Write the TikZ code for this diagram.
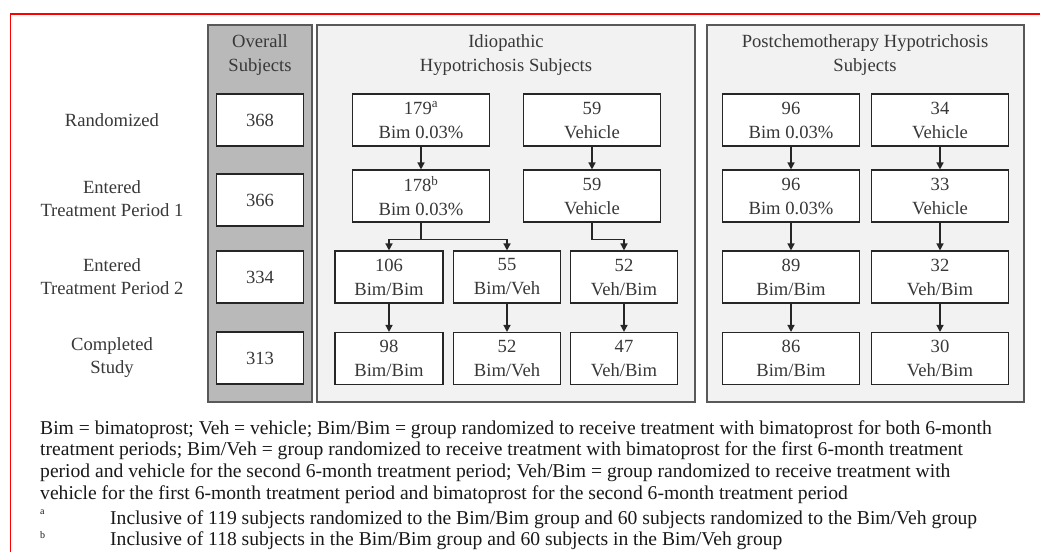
\documentclass[tikz,border=0pt]{standalone}
\usepackage{fontspec}
\setmainfont{Liberation Serif}
\usetikzlibrary{arrows.meta}
\tikzset{
    box/.style={draw=black!85,fill=white,line width=1.1pt,inner sep=0pt,
        minimum height=52pt,align=center,text=black!78,
        font=\fontsize{18.6}{24}\selectfont},
    rowlabel/.style={align=center,text=black!78,font=\fontsize{18.6}{23}\selectfont},
    title/.style={align=center,text=black!78,font=\fontsize{18.6}{24}\selectfont},
    panel/.style={draw=black!65,line width=1.6pt},
    arr/.style={-{Triangle[width=7pt,length=7pt]},line width=1.4pt,black!85},
    notetext/.style={anchor=north west,inner sep=0pt,text=black!90,
        font=\fontsize{19.6}{21.8}\selectfont},
    notemark/.style={anchor=north west,inner sep=0pt,text=black!90,
        font=\fontsize{10}{12}\selectfont},
}
\begin{document}
\begin{tikzpicture}[x=1pt,y=-1pt]
                \useasboundingbox[fill=white] (0,0) rectangle (1040,552);
                \draw[red,line width=1.5pt] (10.5,552) -- (10.5,14) -- (1040,14);
                %% panels
                \draw[panel,fill=gray!55] (208,25) rectangle (312,402);
                \draw[panel,fill=black!5] (317,25) rectangle (695,402);
                \draw[panel,fill=black!5] (707,25) rectangle (1024,402);
                \node[title] (tover) at (260,55) {Overall\\Subjects};
                \node[title] (tidio) at (506,55) {Idiopathic\\Hypotrichosis Subjects};
                \node[title] (tpost) at (865,55) {Postchemotherapy Hypotrichosis\\Subjects};
                %% row labels
                \node[rowlabel] (lrand) at (112,120) {Randomized};
                \node[rowlabel] (lper1) at (112,199) {Entered\\Treatment Period 1};
                \node[rowlabel] (lper2) at (112,277) {Entered\\Treatment Period 2};
                \node[rowlabel] (ldone) at (112,358) {Completed\\Study};
                %% overall subjects
                \foreach \n/\y/\t in {1/120/368,2/200/366,3/277/334,4/358/313}
                    \node[box,minimum width=87pt] (o\n) at (260,\y) {\t};
                %% idiopathic
                \node[box,minimum width=137pt] (ib1) at (421,120) {179\textsuperscript{a}\\Bim 0.03\%};
                \node[box,minimum width=137pt] (iv1) at (592,120) {59\\Vehicle};
                \node[box,minimum width=137pt] (ib2) at (421,196) {178\textsuperscript{b}\\Bim 0.03\%};
                \node[box,minimum width=137pt] (iv2) at (592,196) {59\\Vehicle};
                \node[box,minimum width=108pt] (ibb3) at (389,277) {106\\Bim/Bim};
                \node[box,minimum width=107pt] (ibv3) at (507,277) {55\\Bim/Veh};
                \node[box,minimum width=107pt] (ivb3) at (624,277) {52\\Veh/Bim};
                \node[box,minimum width=108pt] (ibb4) at (389,358.5) {98\\Bim/Bim};
                \node[box,minimum width=107pt] (ibv4) at (507,358.5) {52\\Bim/Veh};
                \node[box,minimum width=107pt] (ivb4) at (624,358.5) {47\\Veh/Bim};
                \draw[arr] (ib1) -- (ib2);
                \draw[arr] (iv1) -- (iv2);
                \draw[arr] (ib2.south) -- ++(0,17) -| (ibb3.north);
                \draw[arr] (ib2.south) -- ++(0,17) -| (ibv3.north);
                \draw[arr] (iv2.south) -- ++(0,17) -| (ivb3.north);
                \foreach \g in {ibb,ibv,ivb}
                    \draw[arr] (\g3) -- (\g4);
                %% postchemotherapy
                \node[box,minimum width=137pt] (pb1) at (791,120) {96\\Bim 0.03\%};
                \node[box,minimum width=137pt] (pv1) at (940,120) {34\\Vehicle};
                \node[box,minimum width=137pt] (pb2) at (791,196) {96\\Bim 0.03\%};
                \node[box,minimum width=137pt] (pv2) at (940,196) {33\\Vehicle};
                \node[box,minimum width=137pt] (pb3) at (791,277) {89\\Bim/Bim};
                \node[box,minimum width=137pt] (pv3) at (940,277) {32\\Veh/Bim};
                \node[box,minimum width=137pt] (pb4) at (791,358.5) {86\\Bim/Bim};
                \node[box,minimum width=137pt] (pv4) at (940,358.5) {30\\Veh/Bim};
                \foreach \g in {pb,pv} {
                    \draw[arr] (\g1) -- (\g2);
                    \draw[arr] (\g2) -- (\g3);
                    \draw[arr] (\g3) -- (\g4);
                }
                %% footnote
                \node[notetext,align=left] (legend) at (40,420)
                    {Bim = bimatoprost; Veh = vehicle; Bim/Bim = group randomized to receive treatment with bimatoprost for both 6-month\\
                     treatment periods; Bim/Veh = group randomized to receive treatment with bimatoprost for the first 6-month treatment\\
                     period and vehicle for the second 6-month treatment period; Veh/Bim = group randomized to receive treatment with\\
                     vehicle for the first 6-month treatment period and bimatoprost for the second 6-month treatment period};
                \node[notemark] (fna) at (40,510) {a};
                \node[notemark] (fnb) at (40,531) {b};
                \node[notetext] (fta) at (110,510.5)
                    {Inclusive of 119 subjects randomized to the Bim/Bim group and 60 subjects randomized to the Bim/Veh group};
                \node[notetext] (ftb) at (110,531)
                    {Inclusive of 118 subjects in the Bim/Bim group and 60 subjects in the Bim/Veh group};
            \end{tikzpicture}
\end{document}
